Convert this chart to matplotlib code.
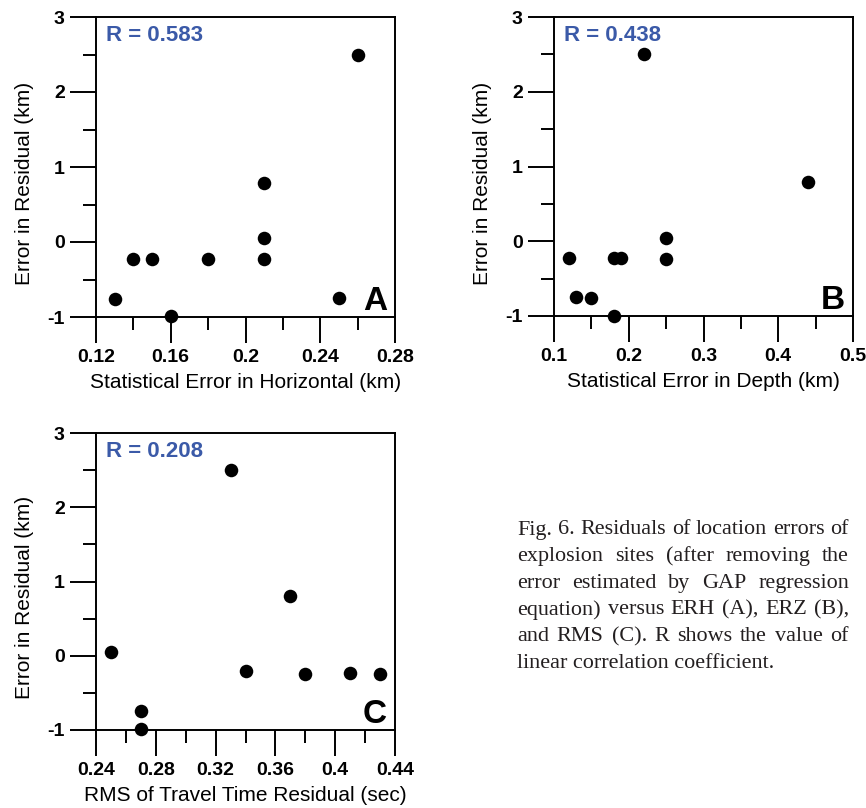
import matplotlib
matplotlib.use('Agg')
import matplotlib.pyplot as plt

# ---- data ----
erh = [0.13, 0.14, 0.15, 0.16, 0.18, 0.21, 0.21, 0.21, 0.25, 0.26]
residual_a = [-0.76, -0.22, -0.22, -0.99, -0.23, 0.79, 0.05, -0.23, -0.74, 2.5]

erz = [0.12, 0.13, 0.15, 0.18, 0.18, 0.19, 0.22, 0.25, 0.25, 0.44]
residual_b = [-0.23, -0.74, -0.76, -1.0, -0.23, -0.23, 2.5, 0.05, -0.24, 0.79]

rms = [0.25, 0.27, 0.27, 0.33, 0.34, 0.37, 0.38, 0.41, 0.43]
residual_c = [0.05, -0.75, -0.99, 2.5, -0.21, 0.81, -0.245, -0.23, -0.24]

r_values = ["0.583", "0.438", "0.208"]
panel_letters = ["A", "B", "C"]

xticks_a = [0.12, 0.16, 0.20, 0.24, 0.28]
xticklabels_a = ["0.12", "0.16", "0.2", "0.24", "0.28"]
xminor_a = [0.14, 0.18, 0.22, 0.26]

xticks_b = [0.1, 0.2, 0.3, 0.4, 0.5]
xticklabels_b = ["0.1", "0.2", "0.3", "0.4", "0.5"]
xminor_b = [0.15, 0.25, 0.35, 0.45]

xticks_c = [0.24, 0.28, 0.32, 0.36, 0.40, 0.44]
xticklabels_c = ["0.24", "0.28", "0.32", "0.36", "0.4", "0.44"]
xminor_c = [0.26, 0.30, 0.34, 0.38, 0.42]

yticks = [-1, 0, 1, 2, 3]
yticklabels = ["-1", "0", "1", "2", "3"]
yminor = [-0.5, 0.5, 1.5, 2.5]

xlabels = ["Statistical Error in Horizontal (km)",
           "Statistical Error in Depth (km)",
           "RMS of Travel Time Residual (sec)"]
ylabel = "Error in Residual (km)"

caption_lines = [
    "Fig. 6. Residuals of location errors of",
    "explosion sites (after removing the",
    "error estimated by GAP regression",
    "equation) versus ERH (A), ERZ (B),",
    "and RMS (C). R shows the value of",
    "linear correlation coefficient.",
]

# ---- figure ----
W, H = 866, 808
fig = plt.figure(figsize=(W / 100, H / 100), dpi=100)
fig.patch.set_facecolor('white')


def px_rect(l, r, t, b):
    return [l / W, 1 - b / H, (r - l) / W, (b - t) / H]


rects = [px_rect(96, 395, 17, 317), px_rect(554, 853, 17, 316), px_rect(96, 395, 433, 730)]
xs = [erh, erz, rms]
ys = [residual_a, residual_b, residual_c]
xt = [(xticks_a, xticklabels_a, xminor_a), (xticks_b, xticklabels_b, xminor_b),
      (xticks_c, xticklabels_c, xminor_c)]

tick_font = dict(family='Liberation Sans', weight='bold', size=14)
for i in range(3):
    ax = fig.add_axes(rects[i])
    ax.scatter(xs[i], ys[i], s=95, color='black', zorder=3, clip_on=False, linewidths=0)
    major, labels, minor = xt[i]
    ax.set_xlim(major[0], major[-1])
    ax.set_ylim(-1, 3)
    ax.set_xticks(major)
    ax.set_xticklabels(labels, fontdict=tick_font)
    ax.set_xticks(minor, minor=True)
    ax.set_yticks(yticks)
    ax.set_yticklabels(yticklabels, fontdict=tick_font)
    ax.set_yticks(yminor, minor=True)
    ax.tick_params(which='major', direction='out', length=18.5, width=1.4, color='black')
    ax.tick_params(axis='x', which='major', pad=4.3)
    ax.tick_params(axis='y', which='major', pad=4.0)
    ax.tick_params(which='minor', direction='out', length=9.2, width=1.4, color='black')
    for sp in ax.spines.values():
        sp.set_linewidth(1.4)
    ax.set_xlabel(xlabels[i], family='Liberation Sans', fontsize=15, labelpad=5)
    ax.set_ylabel(ylabel, family='Liberation Sans', fontsize=15)
    ax.yaxis.set_label_coords(-0.207, 0.445)
    ax.text(0.035, 0.937, "R = " + r_values[i], transform=ax.transAxes,
            family='Liberation Sans', weight='bold', fontsize=16, color='#3b5aa8',
            ha='left', va='center')
    ax.text(0.973, 0.023, panel_letters[i], transform=ax.transAxes,
            family='Liberation Sans', weight='bold', fontsize=24, color='black',
            ha='right', va='baseline')

# ---- justified caption ----
renderer = fig.canvas.get_renderer()
cap_left, cap_right = 517, 849
cap_y0, cap_dy = 530, 26.6
base = 10.0
probe = [fig.text(0, 0, ln, family='Liberation Serif', fontsize=base) for ln in caption_lines[:-1]]
natural = max(t.get_window_extent(renderer).width for t in probe)
for t in probe:
    t.remove()
cap_size = base * (cap_right - cap_left) / natural * 0.995
cap_font = dict(family='Liberation Serif', fontsize=cap_size, color='#231f20')
for li, line in enumerate(caption_lines):
    y = 1 - (cap_y0 + li * cap_dy) / H
    words = line.split(' ')
    if li == len(caption_lines) - 1:
        fig.text(cap_left / W, y, line, ha='left', va='center', **cap_font)
        continue
    texts = [fig.text(0, y, w, ha='left', va='center', **cap_font) for w in words]
    widths = [t.get_window_extent(renderer).width for t in texts]
    gap = (cap_right - cap_left - sum(widths)) / (len(words) - 1)
    x = cap_left
    for t, w in zip(texts, widths):
        t.set_x(x / W)
        x += w + gap

fig.savefig('out.png', dpi=100, facecolor='white')
